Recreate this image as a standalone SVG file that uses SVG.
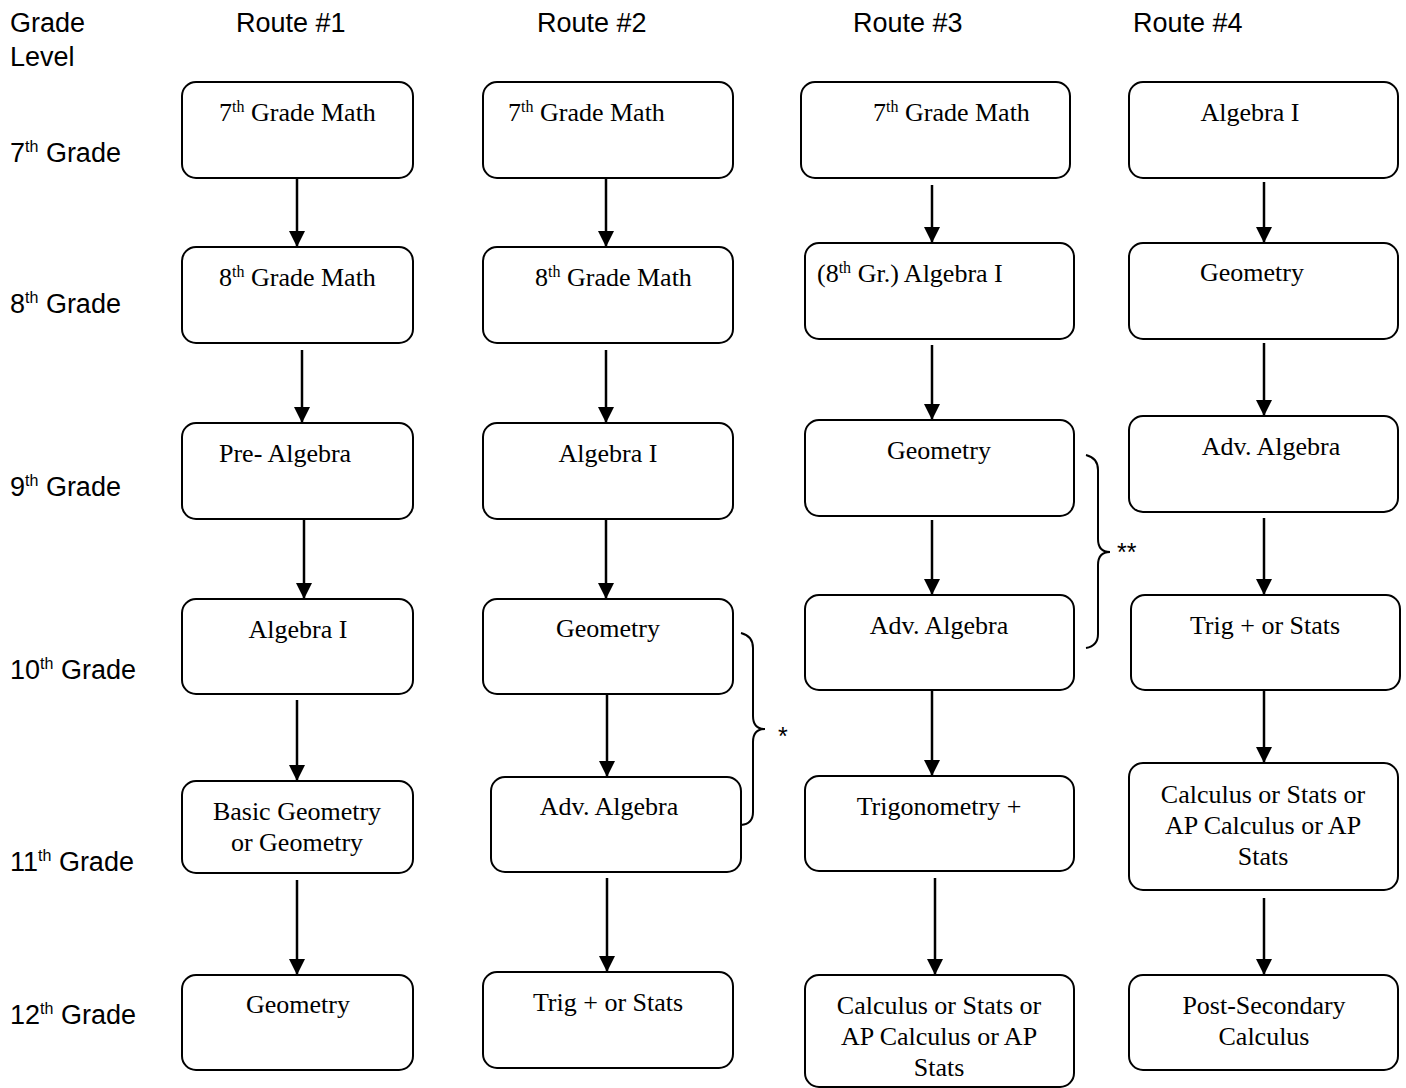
<svg xmlns="http://www.w3.org/2000/svg" width="1406" height="1088" viewBox="0 0 1406 1088">
<style>
.lbl{font-family:"Liberation Sans",Arial,sans-serif;font-size:27px;fill:#000}
.box{fill:#fff;stroke:#000;stroke-width:2}
.t{font-family:"Liberation Serif","Times New Roman",serif;font-size:26px;fill:#000;text-anchor:middle}
.ts{font-family:"Liberation Serif","Times New Roman",serif;font-size:26px;fill:#000}
.sup{font-size:16px}
.ssup{font-size:16px}
.con line{stroke:#000;stroke-width:2.5}
.br{fill:none;stroke:#000;stroke-width:2}
.star{font-family:"Liberation Sans",Arial,sans-serif;font-size:25px;fill:#000}
</style>
<defs>
<marker id="ah" viewBox="0 0 10 10" refX="10" refY="5" markerWidth="6.5" markerHeight="6.5" markerUnits="strokeWidth" orient="auto">
<path d="M0,0 L10,5 L0,10 z" fill="#000"/>
</marker>
</defs>
<rect width="1406" height="1088" fill="#fff"/>
<g id="headers">
<text class="lbl" x="10" y="32">Grade</text>
<text class="lbl" x="10" y="66">Level</text>
<text class="lbl" x="236" y="32">Route #1</text>
<text class="lbl" x="537" y="32">Route #2</text>
<text class="lbl" x="853" y="32">Route #3</text>
<text class="lbl" x="1133" y="32">Route #4</text>
<text class="lbl" x="10" y="162">7<tspan class="ssup" dy="-10">th</tspan><tspan dy="10"> Grade</tspan></text>
<text class="lbl" x="10" y="313">8<tspan class="ssup" dy="-10">th</tspan><tspan dy="10"> Grade</tspan></text>
<text class="lbl" x="10" y="496">9<tspan class="ssup" dy="-10">th</tspan><tspan dy="10"> Grade</tspan></text>
<text class="lbl" x="10" y="679">10<tspan class="ssup" dy="-10">th</tspan><tspan dy="10"> Grade</tspan></text>
<text class="lbl" x="10" y="871">11<tspan class="ssup" dy="-10">th</tspan><tspan dy="10"> Grade</tspan></text>
<text class="lbl" x="10" y="1024">12<tspan class="ssup" dy="-10">th</tspan><tspan dy="10"> Grade</tspan></text>
</g>
<g id="connectors" class="con">
<line x1="297" y1="179" x2="297" y2="247" marker-end="url(#ah)"/>
<line x1="302" y1="350" x2="302" y2="423" marker-end="url(#ah)"/>
<line x1="304" y1="520" x2="304" y2="599" marker-end="url(#ah)"/>
<line x1="297" y1="700" x2="297" y2="781" marker-end="url(#ah)"/>
<line x1="297" y1="880" x2="297" y2="975" marker-end="url(#ah)"/>
<line x1="606" y1="179" x2="606" y2="247" marker-end="url(#ah)"/>
<line x1="606" y1="350" x2="606" y2="423" marker-end="url(#ah)"/>
<line x1="606" y1="520" x2="606" y2="599" marker-end="url(#ah)"/>
<line x1="607" y1="695" x2="607" y2="777" marker-end="url(#ah)"/>
<line x1="607" y1="878" x2="607" y2="972" marker-end="url(#ah)"/>
<line x1="932" y1="185" x2="932" y2="243" marker-end="url(#ah)"/>
<line x1="932" y1="345" x2="932" y2="420" marker-end="url(#ah)"/>
<line x1="932" y1="520" x2="932" y2="595" marker-end="url(#ah)"/>
<line x1="932" y1="691" x2="932" y2="776" marker-end="url(#ah)"/>
<line x1="935" y1="878" x2="935" y2="975" marker-end="url(#ah)"/>
<line x1="1264" y1="182" x2="1264" y2="243" marker-end="url(#ah)"/>
<line x1="1264" y1="343" x2="1264" y2="416" marker-end="url(#ah)"/>
<line x1="1264" y1="518" x2="1264" y2="595" marker-end="url(#ah)"/>
<line x1="1264" y1="691" x2="1264" y2="763" marker-end="url(#ah)"/>
<line x1="1264" y1="898" x2="1264" y2="975" marker-end="url(#ah)"/>
</g>
<g id="r1n1"><rect class="box" x="182" y="82" width="231" height="96" rx="14"/><text class="ts" x="219" y="121">7<tspan class="sup" dy="-9">th</tspan><tspan dy="9"> Grade Math</tspan></text></g>
<g id="r1n2"><rect class="box" x="182" y="247" width="231" height="96" rx="14"/><text class="ts" x="219" y="286">8<tspan class="sup" dy="-9">th</tspan><tspan dy="9"> Grade Math</tspan></text></g>
<g id="r1n3"><rect class="box" x="182" y="423" width="231" height="96" rx="14"/><text class="ts" x="219" y="462">Pre- Algebra</text></g>
<g id="r1n4"><rect class="box" x="182" y="599" width="231" height="95" rx="14"/><text class="t" x="298" y="638">Algebra I</text></g>
<g id="r1n5"><rect class="box" x="182" y="781" width="231" height="92" rx="14"/><text class="t" x="297" y="820">Basic Geometry</text><text class="t" x="297" y="851">or Geometry</text></g>
<g id="r1n6"><rect class="box" x="182" y="975" width="231" height="95" rx="14"/><text class="t" x="298" y="1013">Geometry</text></g>
<g id="r2n1"><rect class="box" x="483" y="82" width="250" height="96" rx="14"/><text class="ts" x="508" y="121">7<tspan class="sup" dy="-9">th</tspan><tspan dy="9"> Grade Math</tspan></text></g>
<g id="r2n2"><rect class="box" x="483" y="247" width="250" height="96" rx="14"/><text class="ts" x="535" y="286">8<tspan class="sup" dy="-9">th</tspan><tspan dy="9"> Grade Math</tspan></text></g>
<g id="r2n3"><rect class="box" x="483" y="423" width="250" height="96" rx="14"/><text class="t" x="608" y="462">Algebra I</text></g>
<g id="r2n4"><rect class="box" x="483" y="599" width="250" height="95" rx="14"/><text class="t" x="608" y="637">Geometry</text></g>
<g id="r2n5"><rect class="box" x="491" y="777" width="250" height="95" rx="14"/><text class="t" x="609" y="815">Adv. Algebra</text></g>
<g id="r2n6"><rect class="box" x="483" y="972" width="250" height="96" rx="14"/><text class="t" x="608" y="1011">Trig + or Stats</text></g>
<g id="r3n1"><rect class="box" x="801" y="82" width="269" height="96" rx="14"/><text class="ts" x="873" y="121">7<tspan class="sup" dy="-9">th</tspan><tspan dy="9"> Grade Math</tspan></text></g>
<g id="r3n2"><rect class="box" x="805" y="243" width="269" height="96" rx="14"/><text class="ts" x="817" y="282">(8<tspan class="sup" dy="-9">th</tspan><tspan dy="9"> Gr.) Algebra I</tspan></text></g>
<g id="r3n3"><rect class="box" x="805" y="420" width="269" height="96" rx="14"/><text class="t" x="939" y="459">Geometry</text></g>
<g id="r3n4"><rect class="box" x="805" y="595" width="269" height="95" rx="14"/><text class="t" x="939" y="634">Adv. Algebra</text></g>
<g id="r3n5"><rect class="box" x="805" y="776" width="269" height="95" rx="14"/><text class="t" x="939" y="815">Trigonometry +</text></g>
<g id="r3n6"><rect class="box" x="805" y="975" width="269" height="112" rx="14"/><text class="t" x="939" y="1014">Calculus or Stats or</text><text class="t" x="939" y="1045">AP Calculus or AP</text><text class="t" x="939" y="1076">Stats</text></g>
<g id="r4n1"><rect class="box" x="1129" y="82" width="269" height="96" rx="14"/><text class="t" x="1250" y="121">Algebra I</text></g>
<g id="r4n2"><rect class="box" x="1129" y="243" width="269" height="96" rx="14"/><text class="t" x="1252" y="281">Geometry</text></g>
<g id="r4n3"><rect class="box" x="1129" y="416" width="269" height="96" rx="14"/><text class="t" x="1271" y="455">Adv. Algebra</text></g>
<g id="r4n4"><rect class="box" x="1131" y="595" width="269" height="95" rx="14"/><text class="t" x="1265" y="634">Trig + or Stats</text></g>
<g id="r4n5"><rect class="box" x="1129" y="763" width="269" height="127" rx="14"/><text class="t" x="1263" y="803">Calculus or Stats or</text><text class="t" x="1263" y="834">AP Calculus or AP</text><text class="t" x="1263" y="865">Stats</text></g>
<g id="r4n6"><rect class="box" x="1129" y="975" width="269" height="95" rx="14"/><text class="t" x="1264" y="1014">Post-Secondary</text><text class="t" x="1264" y="1045">Calculus</text></g>
<g id="brace1">
<path class="br" d="M741,633 Q753,636 753,648 L753,716 Q753,729 765,729 Q753,729 753,742 L753,812 Q753,824 741,825"/>
<text class="star" x="778" y="745">*</text>
</g>
<g id="brace2">
<path class="br" d="M1086,455 Q1098,458 1098,470 L1098,539 Q1098,552 1110,552 Q1098,552 1098,565 L1098,634 Q1098,646 1086,648"/>
<text class="star" x="1117" y="561">**</text>
</g>
</svg>
